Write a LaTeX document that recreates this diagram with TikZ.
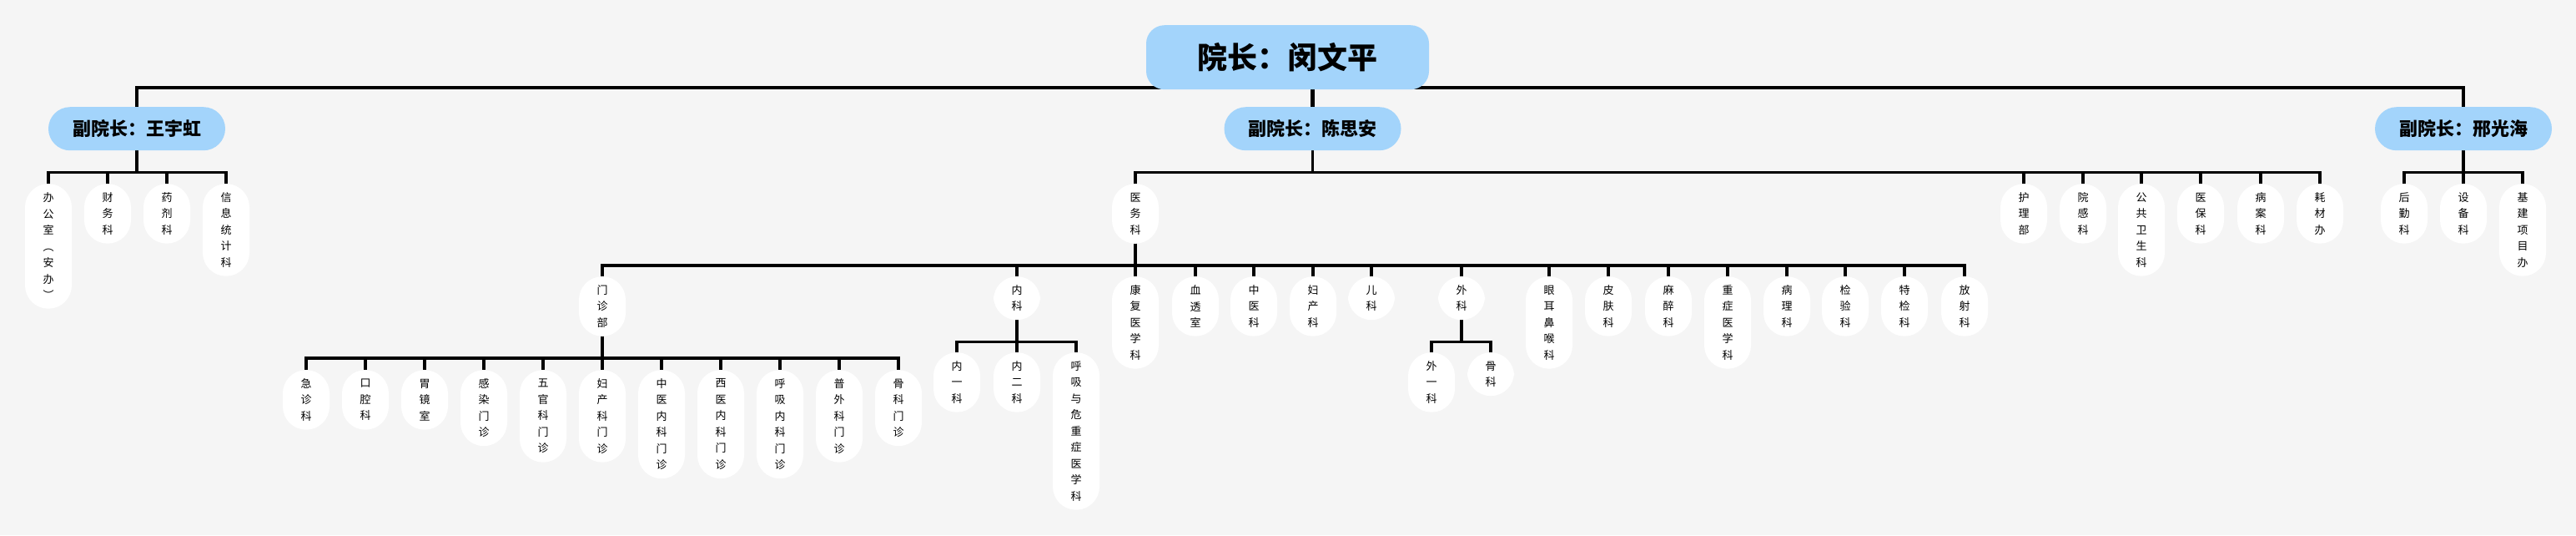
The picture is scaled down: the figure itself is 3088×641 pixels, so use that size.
\documentclass[tikz,border=0pt]{standalone}
\usepackage{fontspec}
\setmainfont{Noto Sans CJK SC}
\usetikzlibrary{backgrounds}
\definecolor{bgc}{HTML}{F5F5F5}
\definecolor{blu}{HTML}{A3D4FB}
\tikzset{
  lead/.style={fill=blu, rounded corners=22pt, minimum width=339pt, minimum height=77pt, inner sep=0pt, font=\fontsize{36}{40}\selectfont\bfseries, anchor=north},
  vp/.style={fill=blu, rounded corners=26pt, minimum width=212pt, minimum height=52pt, inner sep=0pt, font=\fontsize{22}{26}\selectfont\bfseries, anchor=north},
  dn/.style={fill=white, rounded corners=27.9pt, minimum width=56pt, inner xsep=0pt, inner ysep=0pt, minimum height={#1*19.5pt+13pt}, align=center, font=\fontsize{13}{19.5}\selectfont, anchor=north},
  wire/.style={line width=3.5pt, line join=miter},
  topwire/.style={line width=4.5pt, line join=miter},
}
\newcommand\mybranch[3]{\foreach \c in {#3} {\draw[wire] (#1.south) -- ++(0,26) -| (\c.north);}}
\begin{document}
\begin{tikzpicture}[x=1pt,y=-1pt]
\useasboundingbox (0,0) rectangle (3088,641);
% level 0
\node[lead] (top) at (1543.5,30) {院长：闵文平};
% level 1
\node[vp] (L) at (164,128) {副院长：王宇虹};
\node[vp] (M) at (1573.5,128) {副院长：陈思安};
\node[vp] (R) at (2953,128) {副院长：邢光海};
% children of L
\node[dn=7] (l1) at (58,220) {办\\公\\室\\︵\\安\\办\\︶};
\node[dn=3] (l2) at (129,220) {财\\务\\科};
\node[dn=3] (l3) at (200,220) {药\\剂\\科};
\node[dn=5] (l4) at (271,220) {信\\息\\统\\计\\科};
% children of M
\node[dn=3] (yw) at (1361,220) {医\\务\\科};
\node[dn=3] (m2) at (2426,220) {护\\理\\部};
\node[dn=3] (m3) at (2497,220) {院\\感\\科};
\node[dn=5] (m4) at (2567,220) {公\\共\\卫\\生\\科};
\node[dn=3] (m5) at (2638,220) {医\\保\\科};
\node[dn=3] (m6) at (2710,220) {病\\案\\科};
\node[dn=3] (m7) at (2781,220) {耗\\材\\办};
% children of R
\node[dn=3] (r1) at (2882,220) {后\\勤\\科};
\node[dn=3] (r2) at (2953,220) {设\\备\\科};
\node[dn=5] (r3) at (3024,220) {基\\建\\项\\目\\办};
% children of 医务科
\node[dn=3] (mz) at (722,331) {门\\诊\\部};
\node[dn=2] (nk) at (1219,331) {内\\科};
\node[dn=5] (c3) at (1361,331) {康\\复\\医\\学\\科};
\node[dn=3] (c4) at (1433,331) {血\\透\\室};
\node[dn=3] (c5) at (1503,331) {中\\医\\科};
\node[dn=3] (c6) at (1574,331) {妇\\产\\科};
\node[dn=2] (c7) at (1644,331) {儿\\科};
\node[dn=2] (wk) at (1752,331) {外\\科};
\node[dn=5] (c9) at (1857,331) {眼\\耳\\鼻\\喉\\科};
\node[dn=3] (c10) at (1928,331) {皮\\肤\\科};
\node[dn=3] (c11) at (2000,331) {麻\\醉\\科};
\node[dn=5] (c12) at (2071,331) {重\\症\\医\\学\\科};
\node[dn=3] (c13) at (2142,331) {病\\理\\科};
\node[dn=3] (c14) at (2212,331) {检\\验\\科};
\node[dn=3] (c15) at (2283,331) {特\\检\\科};
\node[dn=3] (c16) at (2355,331) {放\\射\\科};
% children of 门诊部
\node[dn=3] (z1) at (367,443) {急\\诊\\科};
\node[dn=3] (z2) at (438,443) {口\\腔\\科};
\node[dn=3] (z3) at (509,443) {胃\\镜\\室};
\node[dn=4] (z4) at (580,443) {感\\染\\门\\诊};
\node[dn=5] (z5) at (651,443) {五\\官\\科\\门\\诊};
\node[dn=5] (z6) at (722,443) {妇\\产\\科\\门\\诊};
\node[dn=6] (z7) at (793,443) {中\\医\\内\\科\\门\\诊};
\node[dn=6] (z8) at (864,443) {西\\医\\内\\科\\门\\诊};
\node[dn=6] (z9) at (935,443) {呼\\吸\\内\\科\\门\\诊};
\node[dn=5] (z10) at (1006,443) {普\\外\\科\\门\\诊};
\node[dn=4] (z11) at (1077,443) {骨\\科\\门\\诊};
% children of 内科
\node[dn=3] (n1) at (1147,422) {内\\一\\科};
\node[dn=3] (n2) at (1219,422) {内\\二\\科};
\node[dn=9] (n3) at (1290,422) {呼\\吸\\与\\危\\重\\症\\医\\学\\科};
% children of 外科
\node[dn=3] (w1) at (1716,422) {外\\一\\科};
\node[dn=2] (w2) at (1787,422) {骨\\科};
\begin{scope}[on background layer]
  \fill[bgc] (0,0) rectangle (3088,641);
  \coordinate (bar) at (1543.5,105);
  \draw[topwire] (L.north) |- (bar) -| (R.north);
  \draw[topwire] (M.north) -- (M.north |- bar);
  \mybranch{L}{}{l1,l2,l3,l4}
  \mybranch{M}{}{yw,m2,m3,m4,m5,m6,m7}
  \mybranch{R}{}{r1,r2,r3}
  \mybranch{yw}{}{mz,nk,c3,c4,c5,c6,c7,wk,c9,c10,c11,c12,c13,c14,c15,c16}
  \mybranch{mz}{}{z1,z2,z3,z4,z5,z6,z7,z8,z9,z10,z11}
  \mybranch{nk}{}{n1,n2,n3}
  \mybranch{wk}{}{w1,w2}
\end{scope}
\end{tikzpicture}
\end{document}
